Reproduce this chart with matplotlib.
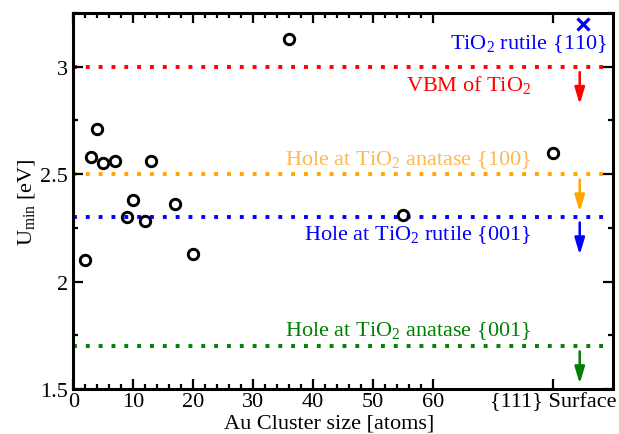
import matplotlib
matplotlib.use("Agg")
import matplotlib.pyplot as plt
from matplotlib.ticker import MultipleLocator

# font setup - times-like serif everywhere, incl. the math subscripts
plt.rcParams['font.family'] = 'Liberation Serif'
plt.rcParams['mathtext.fontset'] = 'custom'
plt.rcParams['mathtext.rm'] = 'Liberation Serif'
plt.rcParams['mathtext.it'] = 'Liberation Serif:italic'
plt.rcParams['font.size'] = 16

# cluster sizes (atoms) and U_min (eV)
cluster_size = [2, 3, 4, 5, 7, 9, 10, 12, 13, 17, 20, 36, 55]
u_min = [2.10, 2.58, 2.71, 2.55, 2.56, 2.30, 2.38, 2.28, 2.56, 2.36, 2.13, 3.13, 2.31]

# {111} surface result, plotted at the "surface" tick
surface_x = 80
surface_u = 2.60

# rutile {110} point
rutile110_x = 85
rutile110_u = 3.20

# reference levels
levels = [3.0, 2.5, 2.3, 1.7]
level_colors = ['red', 'orange', 'blue', 'green']
level_labels = ['VBM of TiO$_2$',
                'Hole at TiO$_2$ anatase {100}',
                'Hole at TiO$_2$ rutile {001}',
                'Hole at TiO$_2$ anatase {001}']
label_y = [2.892, 2.549, 2.199, 1.749]
text_colors = ['red', '#ffb84d', 'blue', 'green']

major_xticks = [0, 10, 20, 30, 40, 50, 60, 80]
major_xlabels = ['0', '10', '20', '30', '40', '50', '60', '{111} Surface']

fig = plt.figure(figsize=(6.19, 4.35), dpi=100)
ax = fig.add_axes([0.1184, 0.1034, 0.8714, 0.8644])

for lev, col in zip(levels, level_colors):
    ax.axhline(lev, color=col, lw=2.8, dashes=(1, 2.3), zorder=1)

for lab, yy, col in zip(level_labels, label_y, text_colors):
    ax.text(76.4, yy, lab, color=col, ha='right', va='baseline', fontsize=16)

ax.text(89.1, 3.088, 'TiO$_2$ rutile {110}', color='blue', ha='right', va='baseline', fontsize=16)

# down arrows at the right hand side
for lev, col in zip(levels, level_colors):
    ax.annotate('', xy=(84.5, lev - 0.175), xytext=(84.5, lev - 0.025),
                arrowprops=dict(arrowstyle='-|>,head_length=1.0,head_width=0.3',
                                mutation_scale=10, color=col, lw=1.8,
                                shrinkA=0, shrinkB=0))

ax.plot(cluster_size, u_min, 'o', mfc='none', mec='black', ms=7.5, mew=2.1, zorder=3)
ax.plot([surface_x], [surface_u], 'o', mfc='none', mec='black', ms=7.5, mew=2.1, zorder=3)
ax.plot([rutile110_x], [rutile110_u], 'x', color='blue', ms=8.5, mew=2.3, zorder=3)

ax.set_xlim(0, 90)
ax.set_ylim(1.5, 3.25)

ax.set_xticks(major_xticks)
ax.set_xticklabels(major_xlabels)
ax.set_xticks(list(range(0, 61, 2)), minor=True)
ax.set_yticks([1.5, 2, 2.5, 3])
ax.set_yticklabels(['1.5', '2', '2.5', '3'])
ax.yaxis.set_minor_locator(MultipleLocator(0.25))

ax.tick_params(which='both', direction='in', top=True, right=True, width=1.6, labelsize=16)
ax.tick_params(which='major', length=7.5)
ax.tick_params(which='minor', length=3.8)
ax.tick_params(axis='x', pad=2)
ax.tick_params(axis='y', pad=4)
for sp in ax.spines.values():
    sp.set_linewidth(2.2)

ax.set_xlabel('Au Cluster size [atoms]', fontsize=16, labelpad=-1)
ax.xaxis.set_label_coords(0.474, -0.065)
ax.set_ylabel('U$_{\\rm min}$ [eV]', fontsize=16, labelpad=2)

fig.savefig('out.png', dpi=100)
